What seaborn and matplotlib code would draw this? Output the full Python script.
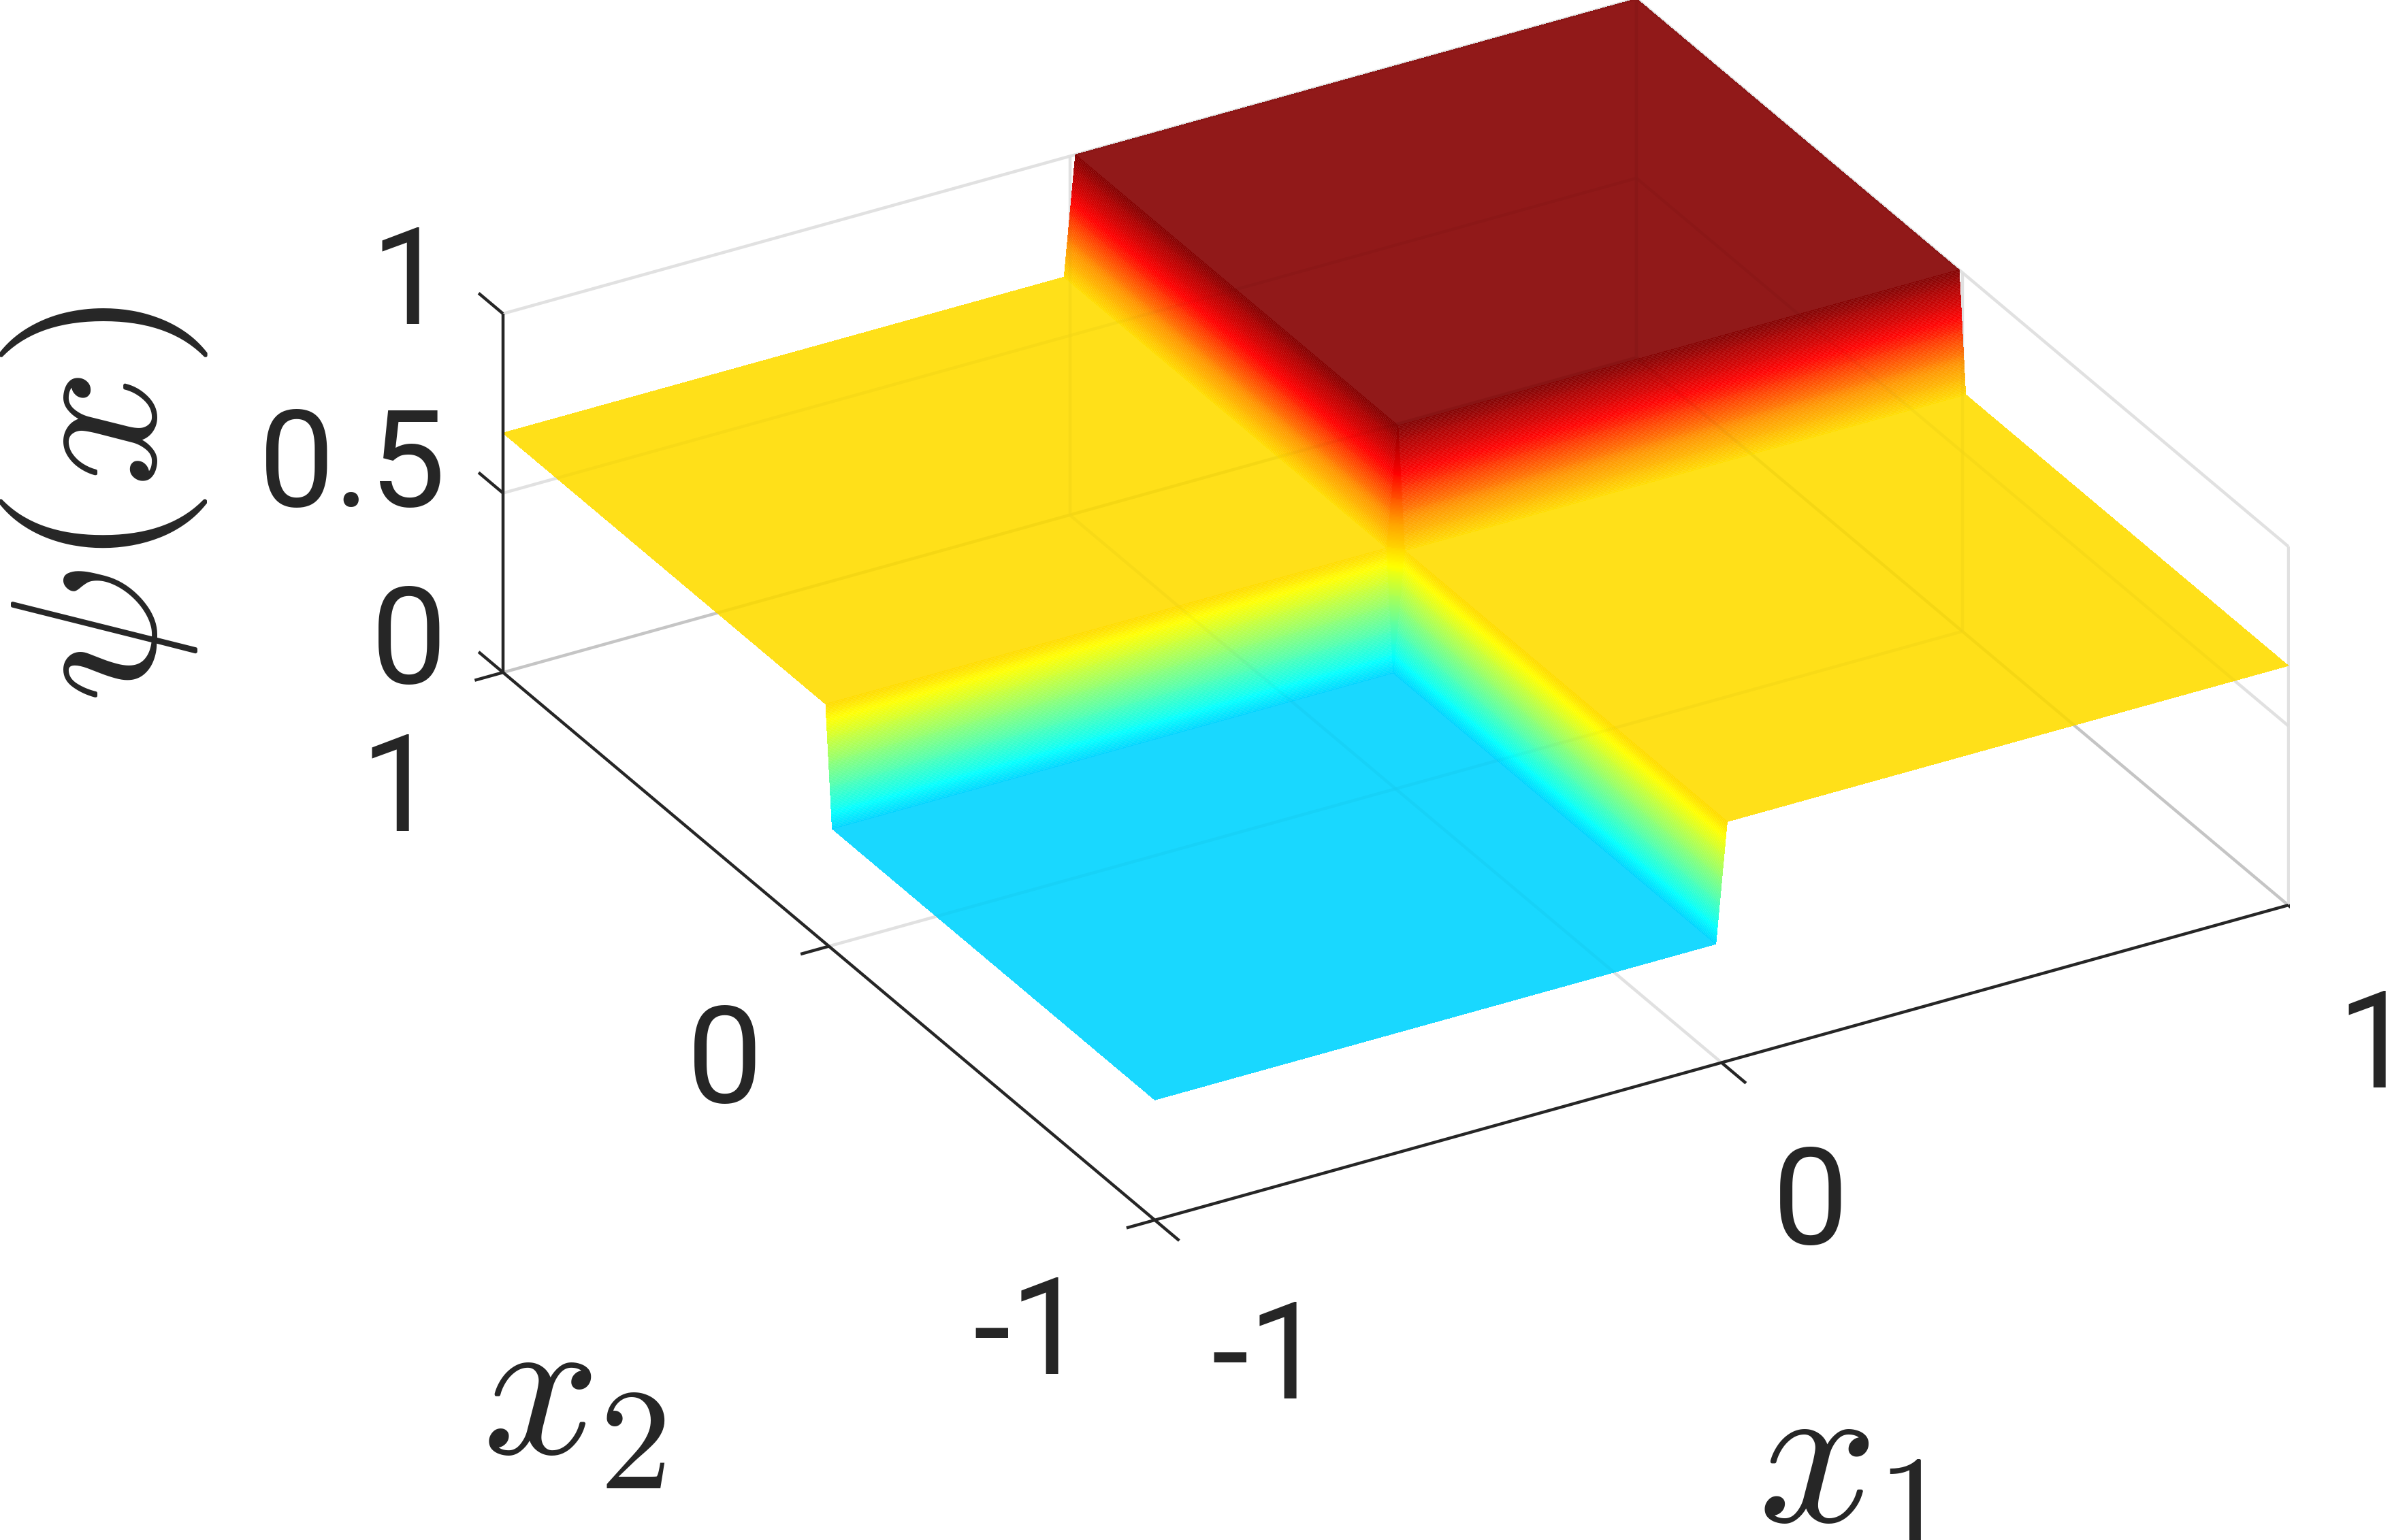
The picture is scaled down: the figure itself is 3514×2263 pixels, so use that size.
import numpy as np
import seaborn as sns
import matplotlib
matplotlib.use('Agg')
import matplotlib.pyplot as plt
from mpl_toolkits.mplot3d import proj3d

W, H = 3514, 2263
PX = W / 1568  # positions below

# surface: step across 0 in x1 and x2
step_pos = [-1,
            -0.01, -0.00975, -0.0095, -0.00925, -0.009, -0.00875, -0.0085, -0.00825,
            -0.008, -0.00775, -0.0075, -0.00725, -0.007, -0.00675, -0.0065, -0.00625,
            -0.006, -0.00575, -0.0055, -0.00525, -0.005, -0.00475, -0.0045, -0.00425,
            -0.004, -0.00375, -0.0035, -0.00325, -0.003, -0.00275, -0.0025, -0.00225,
            -0.002, -0.00175, -0.0015, -0.00125, -0.001, -0.00075, -0.0005, -0.00025,
            0, 0.00025, 0.0005, 0.00075, 0.001, 0.00125, 0.0015, 0.00175,
            0.002, 0.00225, 0.0025, 0.00275, 0.003, 0.00325, 0.0035, 0.00375,
            0.004, 0.00425, 0.0045, 0.00475, 0.005, 0.00525, 0.0055, 0.00575,
            0.006, 0.00625, 0.0065, 0.00675, 0.007, 0.00725, 0.0075, 0.00775,
            0.008, 0.00825, 0.0085, 0.00875, 0.009, 0.00925, 0.0095, 0.00975,
            0.01, 1]
step_rise = [0,
             0, 0.0125, 0.025, 0.0375, 0.05, 0.0625, 0.075, 0.0875,
             0.1, 0.1125, 0.125, 0.1375, 0.15, 0.1625, 0.175, 0.1875,
             0.2, 0.2125, 0.225, 0.2375, 0.25, 0.2625, 0.275, 0.2875,
             0.3, 0.3125, 0.325, 0.3375, 0.35, 0.3625, 0.375, 0.3875,
             0.4, 0.4125, 0.425, 0.4375, 0.45, 0.4625, 0.475, 0.4875,
             0.5, 0.5125, 0.525, 0.5375, 0.55, 0.5625, 0.575, 0.5875,
             0.6, 0.6125, 0.625, 0.6375, 0.65, 0.6625, 0.675, 0.6875,
             0.7, 0.7125, 0.725, 0.7375, 0.75, 0.7625, 0.775, 0.7875,
             0.8, 0.8125, 0.825, 0.8375, 0.85, 0.8625, 0.875, 0.8875,
             0.9, 0.9125, 0.925, 0.9375, 0.95, 0.9625, 0.975, 0.9875,
             1, 1]
z_low = 0.335
z_gain = 0.3325

# the colour scale of the surface, evenly spaced from 0 to 1
jet_stops = [(0, 0, 0.5), (0, 0, 1), (0, 0.5, 1), (0, 1, 1), (0.5, 1, 0.5),
             (1, 1, 0), (1, 0.6, 0), (1, 0, 0), (0.52, 0, 0)]

x_ticks = [-1, 0, 1]
z_ticks = [0, 0.5, 1]
x1_labels = ['-1', '0', '1']
x2_labels = ['-1', '0', '1']
z_labels = ['0', '0.5', '1']

AXIS_COL = '#262626'
GRID_COL = '#e4e4e4'
EDGE_COL = '#c8c8c8'

sns.set_style('white')
plt.rcParams['font.family'] = ['Roboto', 'DejaVu Sans']
plt.rcParams['mathtext.fontset'] = 'cm'

fig = plt.figure(figsize=(W / 100, H / 100), dpi=100)
ax = fig.add_subplot(projection='3d', proj_type='ortho', computed_zorder=False)
ax.set_axis_off()
ax.set_xlim(-1, 1, view_margin=0)
ax.set_ylim(-1, 1, view_margin=0)
ax.set_zlim(0, 1, view_margin=0)
ax.set_box_aspect((1, 1, 0.3135), zoom=1)
ax.view_init(elev=28.9, azim=-119.9)

# surface
X1, X2 = np.meshgrid(step_pos, step_pos)
R1, R2 = np.meshgrid(step_rise, step_rise)
Z = z_low + z_gain * (R1 + R2)
jet = sns.blend_palette(jet_stops, as_cmap=True)
mid = (Z[:-1, :-1] + Z[1:, 1:] + Z[:-1, 1:] + Z[1:, :-1]) / 4
colors = jet(mid)
colors[..., 3] = 0.9
ax.plot_surface(X1, X2, Z, facecolors=colors, shade=False, rcount=len(step_pos), ccount=len(step_pos),
                linewidth=0, antialiased=False, zorder=2)


# grid on floor and back walls
def line(xs, ys, zs, col=GRID_COL, lw=3.2, zo=1, alpha=1):
    ax.plot(xs, ys, zs, color=col, lw=lw, zorder=zo, alpha=alpha, solid_capstyle='butt')


def grid(xs, ys, zs, col=GRID_COL):
    line(xs, ys, zs, col)
    # faint copy on top, the grid shows through the surface
    line(xs, ys, zs, AXIS_COL, zo=2.5, alpha=0.015)


grid([-1, 1], [1, 1], [0, 0], EDGE_COL)
grid([1, 1], [-1, 1], [0, 0], EDGE_COL)
grid([-1, 1], [0, 0], [0, 0])
grid([0, 0], [-1, 1], [0, 0])
for zt in z_ticks[1:]:
    grid([-1, 1], [1, 1], [zt, zt])
    grid([1, 1], [-1, 1], [zt, zt])
for xt in x_ticks:
    grid([xt, xt], [1, 1], [0, 1])
    grid([1, 1], [xt, xt], [0, 1])

# axis lines and ticks
line([-1, 1], [-1, -1], [0, 0], AXIS_COL, zo=3)
line([-1, -1], [-1, 1], [0, 0], AXIS_COL, zo=3)
line([-1, -1], [1, 1], [0, 1], AXIS_COL, zo=3)
for xt in x_ticks:
    line([xt, xt], [-1, -1.075], [0, 0], AXIS_COL, zo=3)
    line([-1, -1.05], [xt, xt], [0, 0], AXIS_COL, zo=3)
for zt in z_ticks:
    line([-1, -1], [1, 1.075], [zt, zt], AXIS_COL, zo=3)


def to_px(x, y, z):
    xs, ys, _ = proj3d.proj_transform(x, y, z, ax.get_proj())
    return ax.transData.transform((xs, ys))


# fit the square 3d axes so the box lands where it is in the picture
side = H * 1.0
left, bottom = 0.0, 0.0
for i in range(3):
    ax.set_position([left / W, bottom / H, side / W, side / H])
    ax.apply_aspect()
    fig.canvas.draw()
    a = to_px(-1, -1, 0)
    b = to_px(1, -1, 0)
    side *= (1500 - 757) * PX / (b[0] - a[0])
    ax.set_position([left / W, bottom / H, side / W, side / H])
    ax.apply_aspect()
    fig.canvas.draw()
    a = to_px(-1, -1, 0)
    left += 757 * PX - a[0]
    bottom += (H - 800 * PX) - a[1]
ax.set_position([left / W, bottom / H, side / W, side / H])


def put(text, x, y, size=143, **kw):
    fig.text(x / 1568, 1 - y / 1010.4, text, fontsize=size, color=AXIS_COL, ha='center', va='center', **kw)


for lab, xy in zip(z_labels, [(268, 424), (231, 308), (268, 188)]):
    put(lab, *xy)
for lab, xy in zip(x2_labels, [(675, 877), (475, 699), (261, 521)]):
    put(lab, *xy)
for lab, xy in zip(x1_labels, [(831, 893), (1187, 792), (1557, 689)]):
    put(lab, *xy)

put(r'$x_1$', 1212, 961, size=222)
put(r'$x_2$', 376, 917, size=218)
put(r'$\psi(x)$', 68, 331, size=220, rotation=90)

fig.savefig('out.png', dpi=100, facecolor='white')
